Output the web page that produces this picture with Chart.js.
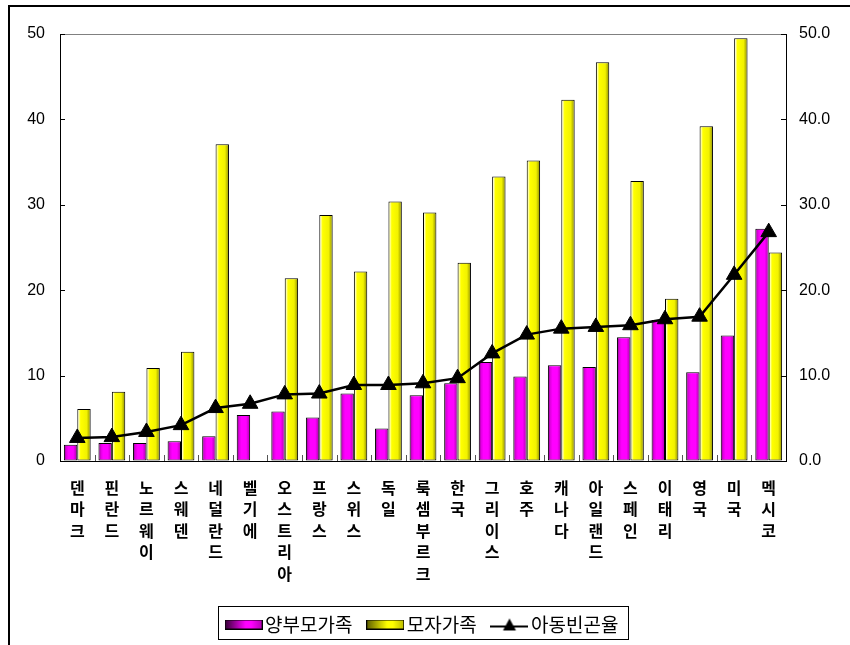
<!DOCTYPE html>
<html>
<head>
<meta charset="utf-8">
<script src="https://cdn.jsdelivr.net/npm/chart.js@4.4.0/dist/chart.umd.min.js"></script>
<style>
  html, body { margin: 0; padding: 0; background: #fff; overflow: hidden; }
  #wrap { position: relative; width: 850px; height: 645px; }
</style>
</head>
<body>
<div id="wrap"><canvas id="chart" width="850" height="645"></canvas></div>
<script>
// Countries, ordered by child poverty rate
const countries = ['덴마크', '핀란드', '노르웨이', '스웨덴', '네덜란드', '벨기에', '오스트리아',
  '프랑스', '스위스', '독일', '룩셈부르크', '한국', '그리이스', '호주', '캐나다', '아일랜드',
  '스페인', '이태리', '영국', '미국', '멕시코'];

// Two-parent families (%)
const twoParent = [1.9, 2.1, 2.1, 2.3, 2.9, 5.4, 5.8, 5.1, 7.9, 3.8, 7.7, 9.1, 11.6, 9.9, 11.2,
  11.0, 14.5, 16.5, 10.4, 14.7, 27.2];

// Mother-child families (%)
const motherChild = [6.1, 8.1, 10.9, 12.8, 37.1, null, 21.4, 28.8, 22.2, 30.4, 29.1, 23.2, 33.3,
  35.2, 42.3, 46.7, 32.8, 19.0, 39.2, 49.5, 24.4];

// Child poverty rate (%)
const childPoverty = [2.7, 2.8, 3.4, 4.2, 6.2, 6.7, 7.8, 7.9, 8.9, 8.9, 9.1, 9.7, 12.6, 14.8,
  15.5, 15.7, 15.9, 16.6, 16.9, 21.8, 26.8];

const seriesNames = ['양부모가족', '모자가족', '아동빈곤율'];
const axisTicks = [0, 10, 20, 30, 40, 50];

const NUM_FONT = "'Liberation Sans', Arial, sans-serif";
const KR_FONT = "'Noto Sans CJK KR', 'Liberation Sans', sans-serif";

// Horizontal shading for the bars (cylinder-like look)
const magentaStops = [[0, '#7a007a'], [0.18, '#e000e0'], [0.35, '#ff00ff'], [0.7, '#ff00ff'], [1, '#a800a8']];
const yellowStops = [[0, '#b4b400'], [0.1, '#ffffc8'], [0.25, '#ffff00'], [0.7, '#f2f200'], [1, '#8c8c00']];

// Legend swatches
function swatch(stops) {
  const c = document.createElement('canvas');
  c.width = 38; c.height = 10;
  const g = c.getContext('2d');
  const grad = g.createLinearGradient(0, 0, 38, 0);
  stops.forEach(([o, col]) => grad.addColorStop(o, col));
  g.fillStyle = grad;
  g.fillRect(0, 0, 38, 10);
  g.strokeStyle = '#000';
  g.lineWidth = 1;
  g.strokeRect(0.5, 0.5, 37, 9);
  return c;
}
function lineIcon() {
  const c = document.createElement('canvas');
  c.width = 38; c.height = 14;
  const g = c.getContext('2d');
  g.strokeStyle = '#000';
  g.lineWidth = 2;
  g.beginPath(); g.moveTo(0, 9); g.lineTo(38, 9); g.stroke();
  g.fillStyle = '#000';
  g.beginPath(); g.moveTo(19, 1); g.lineTo(12.5, 13); g.lineTo(25.5, 13); g.closePath(); g.fill();
  return c;
}
const legendIcons = [
  swatch([[0, '#300030'], [0.55, '#ff00ff'], [0.7, '#ff00ff'], [1, '#b000b0']]),
  swatch([[0, '#5a5a00'], [0.55, '#ffff00'], [0.7, '#ffff00'], [1, '#b8b800']]),
  lineIcon()
];
// trailing room after each legend entry except the last
const legendGap = ['   ', '   ', ''];

const barShading = {
  id: 'barShading',
  beforeDatasetDraw(chart, args) {
    const meta = args.meta;
    if (meta.type !== 'bar') return;
    const stops = args.index === 0 ? magentaStops : yellowStops;
    meta.data.forEach(el => {
      if (!isFinite(el.x) || !isFinite(el.width)) return;
      const g = chart.ctx.createLinearGradient(el.x - el.width / 2, 0, el.x + el.width / 2, 0);
      stops.forEach(([o, c]) => g.addColorStop(o, c));
      el.options = Object.assign({}, el.options, { backgroundColor: g });
    });
  }
};

const frame = {
  id: 'frame',
  afterDatasetsDraw(chart) {
    const { ctx, chartArea: a, scales } = chart;
    ctx.save();
    // top edge of the plot area
    ctx.strokeStyle = '#808080';
    ctx.lineWidth = 1;
    ctx.beginPath();
    ctx.moveTo(a.left, a.top + 0.5);
    ctx.lineTo(a.right, a.top + 0.5);
    ctx.stroke();
    // inward tick marks
    ctx.strokeStyle = '#000';
    ctx.beginPath();
    scales.y.ticks.forEach(t => {
      const py = Math.round(scales.y.getPixelForValue(t.value)) + 0.5;
      ctx.moveTo(a.left, py); ctx.lineTo(a.left + 5, py);
    });
    scales.y2.ticks.forEach(t => {
      const py = Math.round(scales.y2.getPixelForValue(t.value)) + 0.5;
      ctx.moveTo(a.right - 5, py); ctx.lineTo(a.right, py);
    });
    ctx.stroke();
    ctx.strokeStyle = '#555';
    ctx.beginPath();
    const n = countries.length;
    const half = (scales.x.getPixelForValue(1) - scales.x.getPixelForValue(0)) / 2;
    for (let i = 1; i < n; i++) {
      const px = Math.round(scales.x.getPixelForValue(i) - half) + 0.5;
      ctx.moveTo(px, a.bottom); ctx.lineTo(px, a.bottom - 6);
    }
    ctx.stroke();
    ctx.restore();
  },
  afterDraw(chart) {
    const { ctx, legend } = chart;
    ctx.save();
    // legend frame
    const boxes = legend.legendHitBoxes;
    if (boxes && boxes.length) {
      const last = boxes[boxes.length - 1];
      const l = Math.round(boxes[0].left - 14) + 0.5;
      const r = Math.round(last.left + last.width + 10) + 0.5;
      const t = Math.round(legend.top - 1) + 0.5;
      const b = Math.round(legend.top + 32) + 0.5;
      ctx.strokeStyle = '#000';
      ctx.lineWidth = 1;
      ctx.strokeRect(l, t, r - l, b - t);
    }
    // outer frame
    ctx.strokeStyle = '#000';
    ctx.lineWidth = 2;
    ctx.beginPath();
    ctx.moveTo(9, chart.height + 2);
    ctx.lineTo(9, 6);
    ctx.lineTo(chart.width + 2, 6);
    ctx.stroke();
    ctx.restore();
  }
};

const setTicks = s => { s.ticks = axisTicks.map(v => ({ value: v })); };

new Chart(document.getElementById('chart'), {
  data: {
    labels: countries.map(c => Array.from(c)),
    datasets: [
      { type: 'bar', label: seriesNames[0], data: twoParent, yAxisID: 'y', order: 1,
        backgroundColor: '#ff00ff', borderColor: '#000', borderWidth: 1, borderSkipped: false,
        categoryPercentage: 0.775, barPercentage: 1.0 },
      { type: 'bar', label: seriesNames[1], data: motherChild, yAxisID: 'y', order: 1,
        backgroundColor: '#ffff00', borderColor: '#000', borderWidth: 1, borderSkipped: false,
        categoryPercentage: 0.775, barPercentage: 1.0 },
      { type: 'line', label: seriesNames[2], data: childPoverty, yAxisID: 'y2', order: 0,
        borderColor: '#000', borderWidth: 2.5, tension: 0, fill: false,
        pointStyle: 'triangle', pointRadius: 9, pointBackgroundColor: '#000',
        pointBorderColor: '#000', pointBorderWidth: 1 }
    ]
  },
  options: {
    responsive: false,
    animation: false,
    events: [],
    layout: { padding: { top: 34, left: 0, right: 0, bottom: 1 } },
    scales: {
      x: {
        ticks: { padding: 16, autoSkip: false, maxRotation: 0, minRotation: 0, color: '#000',
          font: { family: KR_FONT, size: 16, weight: 'bold', lineHeight: '21.5px' } },
        grid: { drawOnChartArea: false, drawTicks: false },
        border: { display: true, color: '#000', width: 1 },
        afterFit: s => { s.height = 146; }
      },
      y: {
        position: 'left', min: 0, max: 50,
        ticks: { padding: 15, color: '#000', font: { family: NUM_FONT, size: 16 } },
        afterBuildTicks: setTicks,
        grid: { drawOnChartArea: false, drawTicks: false },
        border: { display: true, color: '#000', width: 1 },
        afterFit: s => { s.width = 60; }
      },
      y2: {
        position: 'right', min: 0, max: 50,
        ticks: { padding: 13, color: '#000', font: { family: NUM_FONT, size: 16 },
          callback: v => Number(v).toFixed(1) },
        afterBuildTicks: setTicks,
        grid: { drawOnChartArea: false, drawTicks: false },
        border: { display: true, color: '#000', width: 1 },
        afterFit: s => { s.width = 64; }
      }
    },
    plugins: {
      tooltip: { enabled: false },
      legend: {
        position: 'bottom',
        labels: {
          usePointStyle: true, pointStyleWidth: 24, boxHeight: 10, padding: 8,
          color: '#000', font: { family: KR_FONT, size: 19 },
          generateLabels: chart => chart.data.datasets.map((ds, i) => ({
            text: ds.label + legendGap[i], pointStyle: legendIcons[i], fillStyle: '#000',
            strokeStyle: '#000', lineWidth: 0, hidden: false, datasetIndex: i
          }))
        }
      }
    }
  },
  plugins: [barShading, frame]
});
</script>
</body>
</html>
